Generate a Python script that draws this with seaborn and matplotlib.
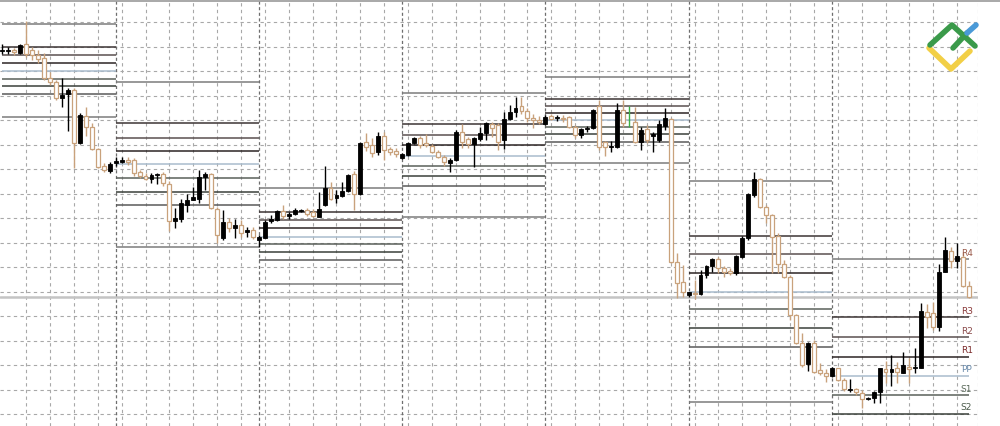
import numpy as np
import matplotlib
matplotlib.use("Agg")
import matplotlib.pyplot as plt
from matplotlib.lines import Line2D
import seaborn as sns

# candles, in rows of the source picture (0 = top edge);
# they are turned into a price scale by to_price() below
opens = [
    # day 1 (partial)
    50.5, 51, 49.5, 52.7, 43.5, 50, 55, 58.5, 78, 82, 98.5, 94, 90, 143, 116, 127, 149, 166.5, 170.5,
    # day 2
    163, 162, 160.5, 160, 172, 176, 179, 175, 174, 183.5, 221, 219, 205, 200, 199, 177, 174.5, 209, 238, 221.7,
    228, 224.5, 231.5, 230,
    # day 3
    239.5, 237.5, 221.5, 220, 211, 215.5, 214, 211, 210, 211.5, 216.5, 205, 188, 198.3, 195.5, 191, 174.3, 194.3,
    142.3, 145, 151.7, 135.7, 149, 151,
    # day 4
    157.7, 155, 143.3, 137.7, 143.3, 145.7, 151.7, 156.7, 162.7, 160, 131.7, 139, 144.3, 139, 132.7, 124.3, 125,
    140, 119, 111.7, 105.7, 111, 118.3, 120,
    # day 5
    124, 116, 118.3, 117.7, 116.7, 126.7, 135, 129.3, 127.7, 105.7, 142.3, 147, 146.7, 110, 126, 122.3, 141.7,
    129, 135.7, 140, 125.7, 119, 261.7, 282.3,
    # day 6
    294.7, 292.7, 294, 275, 266, 259, 268.3, 271, 273.3, 256.7, 238.3, 195, 179.3, 206.7, 215, 236, 264, 277.3,
    315, 342.7, 364, 342.7, 370, 372.7,
    # day 7
    375.7, 368.3, 380, 389.5, 389, 392.7, 399, 397.7, 391.7, 369, 371.7, 368.3, 372.7, 366.7, 368.3, 367.7,
    312.3, 313.3, 326.7, 271.7, 251, 261, 256.7, 285.7,
]
highs = [
    44, 47, 47.7, 44.3, 20.7, 47, 50, 53, 72, 80, 78, 88, 88, 113, 107, 123, 148, 163, 162,
    157, 157, 157, 158, 170, 173, 173, 173, 172, 181, 208, 199, 194, 187, 170, 171.5, 173, 207, 210, 218,
    219, 220, 226.5, 226.5,
    235, 220, 215, 210, 205, 211.7, 208, 208.5, 207.7, 209, 192.3, 165.7, 181.7, 190, 181.7, 174.3, 171, 141.7,
    133.3, 138.3, 131.7, 132.3, 146.7, 148.3,
    153.3, 142.3, 136.7, 135.7, 134.3, 144.3, 150, 155, 158.3, 130, 124.3, 136.7, 136.7, 126.7, 121.7, 121.7,
    123.3, 111.7, 105, 96.7, 96.7, 107.7, 114.3, 115.7,
    115, 114.3, 115, 115, 115.7, 125, 127.7, 125.7, 109, 100, 141, 141, 103.3, 100, 105.7, 106.7, 126.7, 125,
    131.7, 120, 108.3, 118.3, 253.3, 265,
    291.7, 280, 270, 265, 258.3, 256.7, 266, 268.3, 255, 236, 192.7, 171.7, 178.3, 205, 214, 233.3, 260, 275,
    314, 333.3, 341.7, 340, 362.7, 369.3,
    366.7, 367.7, 378.3, 379, 387.7, 390, 397.3, 391, 367.7, 361, 355, 361.7, 351.7, 358.3, 348.3, 303.3,
    304.3, 301.7, 264.3, 236.7, 246.7, 243.3, 251.7, 281,
]
lows = [
    54, 54, 55, 54, 57, 60, 63, 80, 85, 100, 107, 131, 168, 144, 136, 150, 168, 172, 172.5,
    166, 163, 165, 176, 178, 180, 183, 184, 186, 231, 228, 222, 212, 200, 203, 190, 208.5, 243, 240, 232,
    238, 237, 236.5, 239,
    246.5, 238, 222.5, 221, 219, 219, 215, 212, 215.7, 216.7, 217, 205.7, 200, 203.3, 196.7, 192.3, 210, 195,
    151, 156.7, 155, 160, 155, 156.7,
    159, 155.7, 144.3, 147.7, 146.7, 153.3, 158.3, 165.7, 172.3, 161, 147.7, 147.7, 166.7, 141, 140, 136.7,
    150, 149.3, 120, 116.7, 114.3, 121.7, 127.7, 124.3,
    125, 120, 121, 122.3, 127.7, 138.3, 137.7, 131.7, 129, 150, 155.7, 151.7, 148.3, 126.7, 126.7, 143.3, 150,
    143.3, 151.7, 141.7, 130, 263.3, 298.3, 296.7,
    296.7, 299.3, 295, 278.3, 271.7, 273.3, 276.7, 275, 275, 258.3, 240, 197.3, 208.3, 223.3, 273.3, 273.3,
    278.3, 320, 344, 366.7, 370.7, 373.3, 375, 381.7,
    376.7, 381, 391, 391.7, 395, 407.7, 400, 403.3, 403.3, 383.3, 385.7, 383.3, 373.3, 383.3, 373.3, 368.3,
    328.3, 330, 331, 272.3, 267.7, 268.3, 286.7, 297.7,
]
closes = [
    49.5, 50, 51.5, 45, 54, 55, 59, 78, 82, 98, 95, 90, 143, 115, 127, 149, 166.5, 170, 164,
    161, 160.5, 161.5, 173, 176, 179, 175, 174, 183, 221, 218, 203, 200, 197.5, 176.7, 174, 207.5, 235, 221.7,
    228.3, 225, 233, 230, 236.5,
    236.5, 221.7, 219, 210.7, 215.5, 213.5, 210, 210.3, 214, 215.5, 209.3, 187.7, 199, 195, 191, 175, 194.3,
    143.3, 146.7, 153.3, 135.7, 150, 151.7, 154.3,
    154, 143.3, 138.3, 145, 145, 151.7, 156.7, 162.3, 160, 131.7, 142.3, 144.3, 138.3, 132.7, 123.3, 127.7,
    141.7, 119.3, 112.3, 107.7, 111, 118.3, 120, 122.3,
    116.7, 119, 117.5, 119, 126.7, 135, 129.3, 127.7, 110, 146.7, 146.7, 146.3, 110, 123.3, 126, 141.7, 130,
    140, 134.3, 124.3, 118.3, 261.7, 283.3, 292.3,
    292, 294, 275, 266, 259, 268.3, 271.7, 273.3, 256, 237.7, 194, 179.3, 207.3, 215, 237.3, 264, 277.3, 315,
    343.3, 365, 342.7, 371.7, 373.3, 376,
    367.7, 380, 389, 388.7, 392.3, 399, 398, 392.3, 368.3, 371.7, 369, 371.7, 365, 369, 367.3, 311, 316.7,
    326.7, 271.7, 250, 261, 256, 285.7, 296.7,
]

# daily pivot levels, top to bottom: R4 R3 R2 R1 PP S1 S2 S3 S4
level_names = ["R4", "R3", "R2", "R1", "PP", "S1", "S2", "S3", "S4"]
pivots_day1 = [24.3, 47.3, 55, 62.7, 70.7, 78.7, 86, 94, 116.7]
pivots_day2 = [82.3, 123.3, 137.5, 151, 164.3, 178.3, 192.3, 205, 247]
pivots_day3 = [188, 212, 220, 228, 236.7, 244, 252, 260, 284]
pivots_day4 = [93, 124, 135, 145, 155.7, 165.7, 176, 186, 217]
pivots_day5 = [77, 99, 106, 113, 120, 127, 134, 141.5, 163]
pivots_day6 = [181, 236, 254.3, 273.3, 292, 309.3, 328, 346.7, 401.7]
pivots_day7 = [259, 317, 337, 356.7, 375.7, 395, 414, 433, 491]
day_starts = [0, 19, 43, 67, 91, 115, 139]
day_ends = [19, 43, 67, 91, 115, 139, 162]
level_line = 296.7

BASE, STEP = 1.1500, 0.0001


def to_price(v):
    return BASE - np.asarray(v, dtype=float) * STEP


o, h, l, c = (to_price(a) for a in (opens, highs, lows, closes))
x = np.arange(len(o))

sns.set_theme(style="white")
fig = plt.figure(figsize=(10, 4.26), dpi=100)
ax = fig.add_axes([0, 0, 0.978, 1])
ax.set_xlim(-0.385, 163.5)
ax.set_ylim(to_price(426), to_price(0))
ax.set_xticks([])
ax.set_yticks([])
for s in ax.spines.values():
    s.set_visible(False)

grid_kw = dict(color="#a8a8a8", lw=0.8, ls=(0, (3, 3)), zorder=0)
for k in range(17):
    ax.axhline(to_price(22.3 + 24.5 * k), **grid_kw)
for k in range(4, 164, 4):
    ax.axvline(k, **grid_kw)
ax.axvline(163.5, **grid_kw)
for s in day_starts[1:]:
    ax.axvline(s, color="#6e6e6e", lw=0.9, ls=(0, (2.5, 2)), zorder=0.5)

# pivot lines per day
level_colors = ["#7c7c7c", "#3c3434", "#5a5050", "#2c2424", "#a9bccd", "#5a605a", "#3a403a", "#5a5a5a", "#7c7c7c"]
days = [pivots_day1, pivots_day2, pivots_day3, pivots_day4, pivots_day5, pivots_day6, pivots_day7]
for d, lv in enumerate(days):
    for k, y in enumerate(to_price(lv)):
        ax.hlines(y, day_starts[d], day_ends[d], color=level_colors[k], lw=1.1, zorder=1)
ax.axhline(to_price(level_line), color="#c4c4c4", lw=1.8, zorder=1)

label_colors = ["#9a5a4a", "#8a3a3a", "#8a4a4a", "#7a2a2a", "#6a8aaa", "#5a6a5a", "#4a5a4a"]
for k, name in enumerate(level_names[:7]):
    ax.text(160.6, to_price(pivots_day7[k] - 1.5), name, fontsize=6.5, color=label_colors[k],
            ha="left", va="bottom", zorder=5)

# candles
tan = "#c9a27c"
bull = c > o
doji = c == o
wick_col = np.where(doji, "#3cb043", np.where(bull, "black", tan))
ax.vlines(x, l, h, colors=wick_col, lw=1, zorder=2)
body_lo = np.minimum(o, c)
body_h = np.maximum(np.abs(c - o), STEP)
keep = ~doji
ax.bar(x[keep & bull], body_h[keep & bull], bottom=body_lo[keep & bull], width=0.66,
       color="black", edgecolor="black", lw=0.6, zorder=3)
ax.bar(x[keep & ~bull], body_h[keep & ~bull], bottom=body_lo[keep & ~bull], width=0.66,
       color="white", edgecolor=tan, lw=0.9, zorder=3)

# frame line along the top
fig.add_artist(Line2D([0, 1], [0.998, 0.998], color="#9a9a9a", lw=1.2))


# logo, top right
def px(xp, yp):
    return np.asarray(xp) / 1000, 1 - np.asarray(yp) / 426


for xs, ys, col in [
    ([929, 951, 970], [48, 69, 51], "#f2cf46"),
    ([930, 952, 975], [45, 25, 46], "#3a9a4a"),
    ([953, 967], [48, 33], "#3a9a4a"),
    ([967, 976], [33, 25], "#4a9ad8"),
]:
    fig.add_artist(Line2D(*px(xs, ys), color=col, lw=4, solid_capstyle="round", solid_joinstyle="round"))

fig.savefig("out.png", dpi=100)
